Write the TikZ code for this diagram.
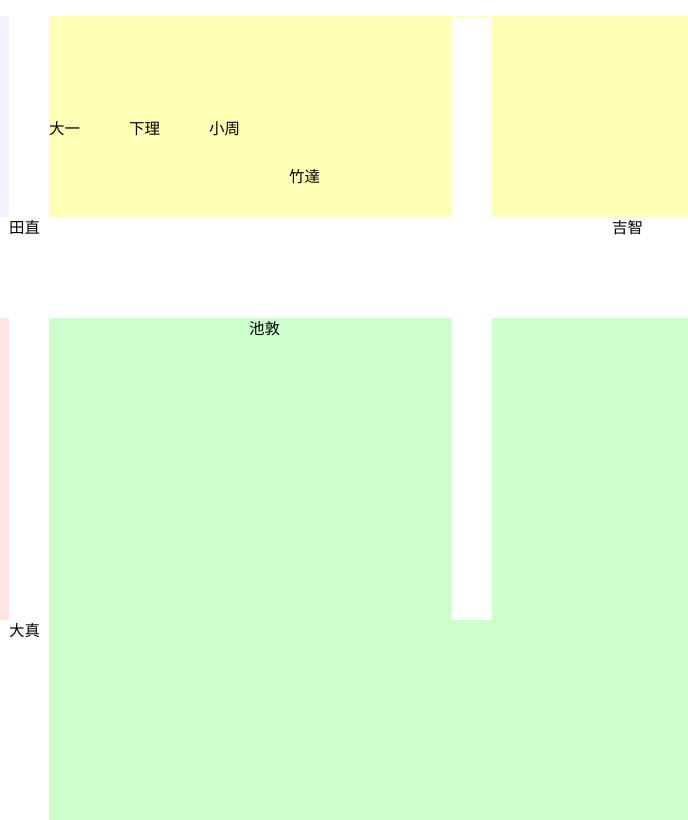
\documentclass[tikz,border=0pt]{standalone}
\usepackage{fontspec}
\newfontfamily\cjk{Noto Sans CJK SC}
\usepackage{tikz}
\definecolor{pastelyellow}{RGB}{255,255,181}
\definecolor{pastelgreen}{RGB}{204,255,204}
\definecolor{pastelblue}{RGB}{242,242,255}
\definecolor{pastelpink}{RGB}{255,229,229}
\tikzset{namelabel/.style={anchor=west,inner sep=0pt,font=\cjk\fontsize{15.5}{18}\selectfont}}

\begin{document}
\begin{tikzpicture}[x=1pt,y=-1pt]
    \useasboundingbox (0,0) rectangle (688,820);
    % areas
    \fill[pastelblue] (0,16) rectangle (9,217);
    \fill[pastelpink] (0,318) rectangle (9,620);
    \fill[pastelyellow] (49,16) rectangle (688,217);
    \fill[pastelgreen] (49,318) rectangle (688,820);
    \fill[white] (451,17) rectangle (492,620);
    % names
    \node[namelabel] (tanaka) at (9,228) {田直};
    \node[namelabel] (ohma) at (9,631) {大真};
    \node[namelabel] (yoshi) at (612,228) {吉智};
    \node[namelabel] (oichi) at (49,129) {大一};
    \node[namelabel] (shimo) at (129,129) {下理};
    \node[namelabel] (koshu) at (209,129) {小周};
    \node[namelabel] (take) at (289,177) {竹達};
    \node[namelabel] (ike) at (249,329) {池敦};
  \end{tikzpicture}
\end{document}
